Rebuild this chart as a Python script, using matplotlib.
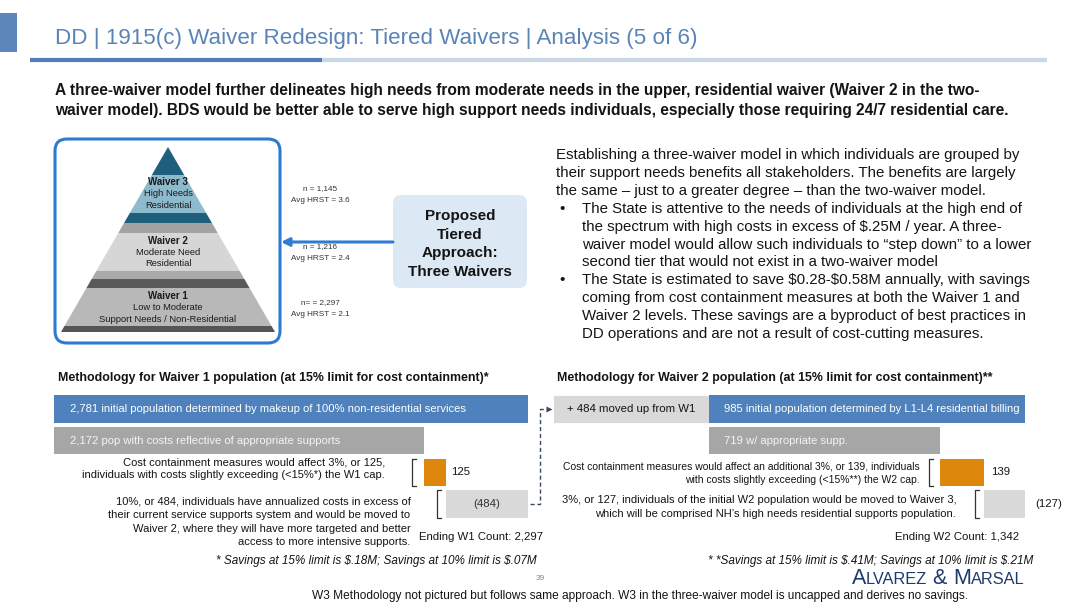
import matplotlib
matplotlib.use('Agg')
import matplotlib.pyplot as plt
from matplotlib.patches import Rectangle, FancyBboxPatch, Polygon
from matplotlib.offsetbox import TextArea, HPacker, AnnotationBbox

plt.rcParams['font.family'] = ['Liberation Sans', 'DejaVu Sans']

# ---------------- data ----------------
tier_names = ['Waiver 3', 'Waiver 2', 'Waiver 1']
tier_desc = [['High Needs', 'Residential'],
             ['Moderate Need', 'Residential'],
             ['Low to Moderate', 'Support Needs / Non-Residential']]
tier_n = ['n = 1,145', 'n = 1,216', 'n= = 2,297']
tier_hrst = [3.6, 2.4, 2.1]

# waiver 1 waterfall: initial, appropriate supports, cost containment, moved to W2
w1_steps = [2781, 2172, 125, 484]
w1_end = 2297
# waiver 2 waterfall: moved in from W1, initial, appropriate, cost containment, moved to W3
w2_moved_in = 484
w2_steps = [985, 719, 139, 127]
w2_end = 1342

# ---------------- colours ----------------
c_blue = '#4f81bc'
c_gray = '#a6a6a6'
c_orange = '#de870d'
c_light = '#d9d9d9'
c_text = '#141414'
c_title = '#5a84b6'
c_frame = '#2b7bd0'
c_navy = '#1f3a6e'

W, H = 1080, 607
fig = plt.figure(figsize=(W / 100, H / 100), dpi=100)
fig.patch.set_facecolor('white')

# full slide axes in pixel units (y down), kept on top of the bar axes
ax = fig.add_axes([0, 0, 1, 1])
ax.set_xlim(0, W)
ax.set_ylim(H, 0)
ax.axis('off')
ax.set_zorder(5)


def px_rect(x0, y0, x1, y1):
    return [x0 / W, (H - y1) / H, (x1 - x0) / W, (y1 - y0) / H]


def px(a, x, y):
    dx, dy = a.transData.transform((x, y))
    return dx, H - dy


# ---------------- header ----------------
ax.add_patch(Rectangle((0, 13), 17, 39, color='#5b87bb', lw=0))
ax.text(55, 44, 'DD | 1915(c) Waiver Redesign: Tiered Waivers | Analysis (5 of 6)',
        fontsize=16.1, color=c_title, va='baseline', ha='left')
ax.plot([322, 1047], [59.5, 59.5], color='#c9d7e6', lw=3, solid_capstyle='butt')
ax.plot([30, 322], [59.5, 59.5], color='#4f7fb6', lw=3, solid_capstyle='butt')

sub = ['A three-waiver model further delineates high needs from moderate needs in the upper, '
       'residential waiver (Waiver 2 in the two-',
       'waiver model). BDS would be better able to serve high support needs individuals, '
       'especially those requiring 24/7 residential care.']
for i, s in enumerate(sub):
    ax.text(55, 90 + 20 * i, s, fontsize=11.2, fontweight='bold', color=c_text, va='center')

# ---------------- pyramid ----------------
ax.add_patch(FancyBboxPatch((55, 139), 225, 204, boxstyle='round,pad=0,rounding_size=12',
                            fc='white', ec=c_frame, lw=2.2))
apex_x, apex_y, base_y, half_base = 168, 147, 332, 107
bands = [(147, 175, '#1e5f7b'), (175, 213, '#8dbacd'), (213, 223, '#1e5f7b'),
         (223, 233, '#a3a3a3'), (233, 271, '#d6d6d6'), (271, 279, '#a9a9a9'),
         (279, 288, '#595959'), (288, 326, '#b8b8b8'), (326, 332, '#555555')]
for y0, y1, col in bands:
    h0 = half_base * (y0 - apex_y) / (base_y - apex_y)
    h1 = half_base * (y1 - apex_y) / (base_y - apex_y)
    ax.add_patch(Polygon([(apex_x - h0, y0), (apex_x + h0, y0), (apex_x + h1, y1), (apex_x - h1, y1)],
                         closed=True, color=col, lw=0))

tier_y = [182, 241, 296]
for name, desc, y in zip(tier_names, tier_desc, tier_y):
    ax.text(apex_x, y, name, fontsize=7, fontweight='bold', color='#1a1a1a', ha='center', va='center')
    for k, d in enumerate(desc):
        ax.text(apex_x, y + 11.5 * (k + 1), d, fontsize=6.75, color='#1a1a1a', ha='center', va='center')

n_y = [189, 247, 303]
for n, hr, y in zip(tier_n, tier_hrst, n_y):
    ax.text(320, y, n, fontsize=5.9, color='#333333', ha='center', va='center')
    ax.text(320, y + 11, f'Avg HRST = {hr}', fontsize=5.9, color='#333333', ha='center', va='center')

ax.annotate('', xy=(281, 242), xytext=(393, 242),
            arrowprops=dict(arrowstyle='-|>', lw=2.2, color='#2e7dd2', mutation_scale=12,
                            shrinkA=0, shrinkB=0))
ax.add_patch(FancyBboxPatch((393, 195), 134, 93, boxstyle='round,pad=0,rounding_size=8',
                            fc='#dce9f5', ec='none'))
for k, s in enumerate(['Proposed', 'Tiered', 'Approach:', 'Three Waivers']):
    ax.text(460, 216 + 18.7 * k, s, fontsize=11, fontweight='bold', color=c_text, ha='center', va='center')

# ---------------- right paragraph ----------------
para = [
    (None, 'Establishing a three-waiver model in which individuals are grouped by'),
    (None, 'their support needs benefits all stakeholders. The benefits are largely'),
    (None, 'the same \u2013 just to a greater degree \u2013 than the two-waiver model.'),
    ('b', 'The State is attentive to the needs of individuals at the high end of'),
    ('i', r'the spectrum with high costs in excess of \$.25M / year. A three-'),
    ('i', 'waiver model would allow such individuals to \u201cstep down\u201d to a lower'),
    ('i', 'second tier that would not exist in a two-waiver model'),
    ('b', r'The State is estimated to save \$0.28-\$0.58M annually, with savings'),
    ('i', 'coming from cost containment measures at both the Waiver 1 and'),
    ('i', 'Waiver 2 levels. These savings are a byproduct of best practices in'),
    ('i', 'DD operations and are not a result of cost-cutting measures.'),
]
for k, (kind, s) in enumerate(para):
    y = 155 + 17.9 * k
    x = 556 if kind is None else 582
    if kind == 'b':
        ax.text(559, y, '\u2022', fontsize=10.8, color=c_text, va='center')
    ax.text(x, y, s, fontsize=10.8, color=c_text, va='center')

# ---------------- methodology headers ----------------
ax.text(58, 378, 'Methodology for Waiver 1 population (at 15% limit for cost containment)*',
        fontsize=8.9, fontweight='bold', color=c_text, va='center')
ax.text(557, 378, 'Methodology for Waiver 2 population (at 15% limit for cost containment)**',
        fontsize=8.9, fontweight='bold', color=c_text, va='center')

rows = [0, 1, 2, 3]
bar_h = 0.86
fs_row = 8.0

# ---------------- waiver 1 waterfall ----------------
ax1 = fig.add_axes(px_rect(54, 393, 528, 520))
ax1.set_xlim(0, w1_steps[0])
ax1.set_ylim(3.5, -0.5)
ax1.axis('off')
w1_left = [0, 0, w1_steps[1], w1_steps[1] + w1_steps[2]]
ax1.barh(rows, w1_steps, left=w1_left, height=bar_h,
         color=[c_blue, c_gray, c_orange, c_light], edgecolor='none')

x, y = px(ax1, 0, 0)
ax.text(x + 16, y, f'{w1_steps[0]:,} initial population determined by makeup of 100% non-residential services',
        fontsize=8.1, color='white', va='center')
x, y = px(ax1, 0, 1)
ax.text(x + 16, y, f'{w1_steps[1]:,} pop with costs reflective of appropriate supports',
        fontsize=8.1, color='#f4f4f4', va='center')

half = bar_h / 2


def bracket(a, xv, row, gap):
    x0, y0 = px(a, xv, row - half)
    _, y1 = px(a, xv, row + half)
    bx = x0 - gap
    ax.plot([bx + 4, bx, bx, bx + 4], [y0, y0, y1, y1], color='#333333', lw=0.9)
    return bx


bx = bracket(ax1, w1_left[2], 2, 12)
_, yc = px(ax1, 0, 2)
ex, _ = px(ax1, w1_left[2] + w1_steps[2], 2)
ax.text(ex + 6, yc, f'{w1_steps[2]}', fontsize=8.2, color=c_text, va='center')
ax.text(bx - 27, yc - 10, f'Cost containment measures would affect 3%, or {w1_steps[2]},',
        fontsize=fs_row, color=c_text, ha='right', va='center')
ax.text(bx - 27, yc + 3, 'individuals with costs slightly exceeding (<15%*) the W1 cap.',
        fontsize=fs_row, color=c_text, ha='right', va='center')

bx = bracket(ax1, w1_left[3], 3, 9)
mx, yc = px(ax1, w1_left[3] + w1_steps[3] / 2, 3)
ax.text(mx, yc, f'({w1_steps[3]})', fontsize=8.2, color='#333333', ha='center', va='center')
w1_move_txt = [f'10%, or {w1_steps[3]}, individuals have annualized costs in excess of',
               'their current service supports system and would be moved to',
               'Waiver 2, where they will have more targeted and better',
               'access to more intensive supports.']
for k, s in enumerate(w1_move_txt):
    ax.text(bx - 26, yc - 3 + 13.7 * k, s, fontsize=fs_row, color=c_text, ha='right', va='center')
ax.text(mx - 6, 537, f'Ending W1 Count: {w1_end:,}', fontsize=8.2, color=c_text, ha='center', va='center')
ax.text(537, 561, r'* Savings at 15% limit is \$.18M; Savings at 10% limit is \$.07M',
        fontsize=8.5, style='italic', color=c_text, ha='right', va='center')

# ---------------- waiver 2 waterfall ----------------
ax2 = fig.add_axes(px_rect(553, 393, 1025, 520))
ax2.set_xlim(-w2_moved_in, w2_steps[0])
ax2.set_ylim(3.5, -0.5)
ax2.axis('off')
w2_left = [0, 0, w2_steps[1], w2_steps[1] + w2_steps[2]]
ax2.barh([0], [w2_moved_in], left=[-w2_moved_in], height=bar_h, color=c_light, edgecolor='white', lw=0.6)
ax2.barh(rows, w2_steps, left=w2_left, height=bar_h,
         color=[c_blue, c_gray, c_orange, c_light], edgecolor='none')

mx, y = px(ax2, -w2_moved_in / 2, 0)
ax.text(mx, y, f'+ {w2_moved_in} moved up from W1', fontsize=8.2, color=c_text, ha='center', va='center')
x, y = px(ax2, 0, 0)
ax.text(x + 15, y, f'{w2_steps[0]} initial population determined by L1-L4 residential billing',
        fontsize=8.1, color='white', va='center')
x, y = px(ax2, 0, 1)
ax.text(x + 15, y, f'{w2_steps[1]} w/ appropriate supp.', fontsize=8.1, color='#f4f4f4', va='center')

bx = bracket(ax2, w2_left[2], 2, 11)
_, yc = px(ax2, 0, 2)
ex, _ = px(ax2, w2_left[2] + w2_steps[2], 2)
ax.text(ex + 7, yc, f'{w2_steps[2]}', fontsize=8.2, color=c_text, va='center')
ax.text(bx - 9, yc - 6, f'Cost containment measures would affect an additional 3%, or {w2_steps[2]}, individuals',
        fontsize=7.5, color=c_text, ha='right', va='center')
ax.text(bx - 9, yc + 8, 'with costs slightly exceeding (<15%**) the W2 cap.',
        fontsize=7.5, color=c_text, ha='right', va='center')

bx = bracket(ax2, w2_left[3], 3, 9)
ex, yc = px(ax2, w2_steps[0], 3)
ax.text(ex + 10, yc, f'({w2_steps[3]})', fontsize=8.2, color=c_text, va='center')
ax.text(bx - 19, yc - 4, f'3%, or {w2_steps[3]}, individuals of the initial W2 population would be moved to Waiver 3,',
        fontsize=fs_row, color=c_text, ha='right', va='center')
ax.text(bx - 19, yc + 10, 'which will be comprised NH\u2019s high needs residential supports population.',
        fontsize=fs_row, color=c_text, ha='right', va='center')
ax.text(ex - 6, 537, f'Ending W2 Count: {w2_end:,}', fontsize=8.2, color=c_text, ha='right', va='center')
ax.text(1033, 561, r'* *Savings at 15% limit is \$.41M; Savings at 10% limit is \$.21M',
        fontsize=8.5, style='italic', color=c_text, ha='right', va='center')

# dashed connector W1 -> W2
x0, y0 = px(ax1, w1_steps[0], 3)
x1, y1 = px(ax2, -w2_moved_in, 0)
ax.plot([x0 + 2, 540, 540, x1 - 5], [y0, y0, y1, y1], color='#3b4a63', lw=1, ls=(0, (3, 2)))
ax.plot([x1 - 4], [y1], marker='>', ms=4.5, color='#3b4a63', mec='none')

# ---------------- footer ----------------
ax.text(540, 578, '39', fontsize=6, color='#888888', ha='center', va='center')
parts = [('A', 15.5), ('LVAREZ', 11.8), (' & ', 15.5), ('M', 15.5), ('ARSAL', 11.8)]
logo = HPacker(children=[TextArea(t, textprops=dict(fontsize=s, color=c_navy)) for t, s in parts],
               align='baseline', pad=0, sep=0)
ax.add_artist(AnnotationBbox(logo, (1025, 579), xycoords='data', box_alignment=(1, 0.5), frameon=False))
ax.text(640, 596, 'W3 Methodology not pictured but follows same approach. W3 in the three-waiver model '
        'is uncapped and derives no savings.', fontsize=8.55, color=c_text, ha='center', va='center')

fig.savefig('out.png', dpi=100)
